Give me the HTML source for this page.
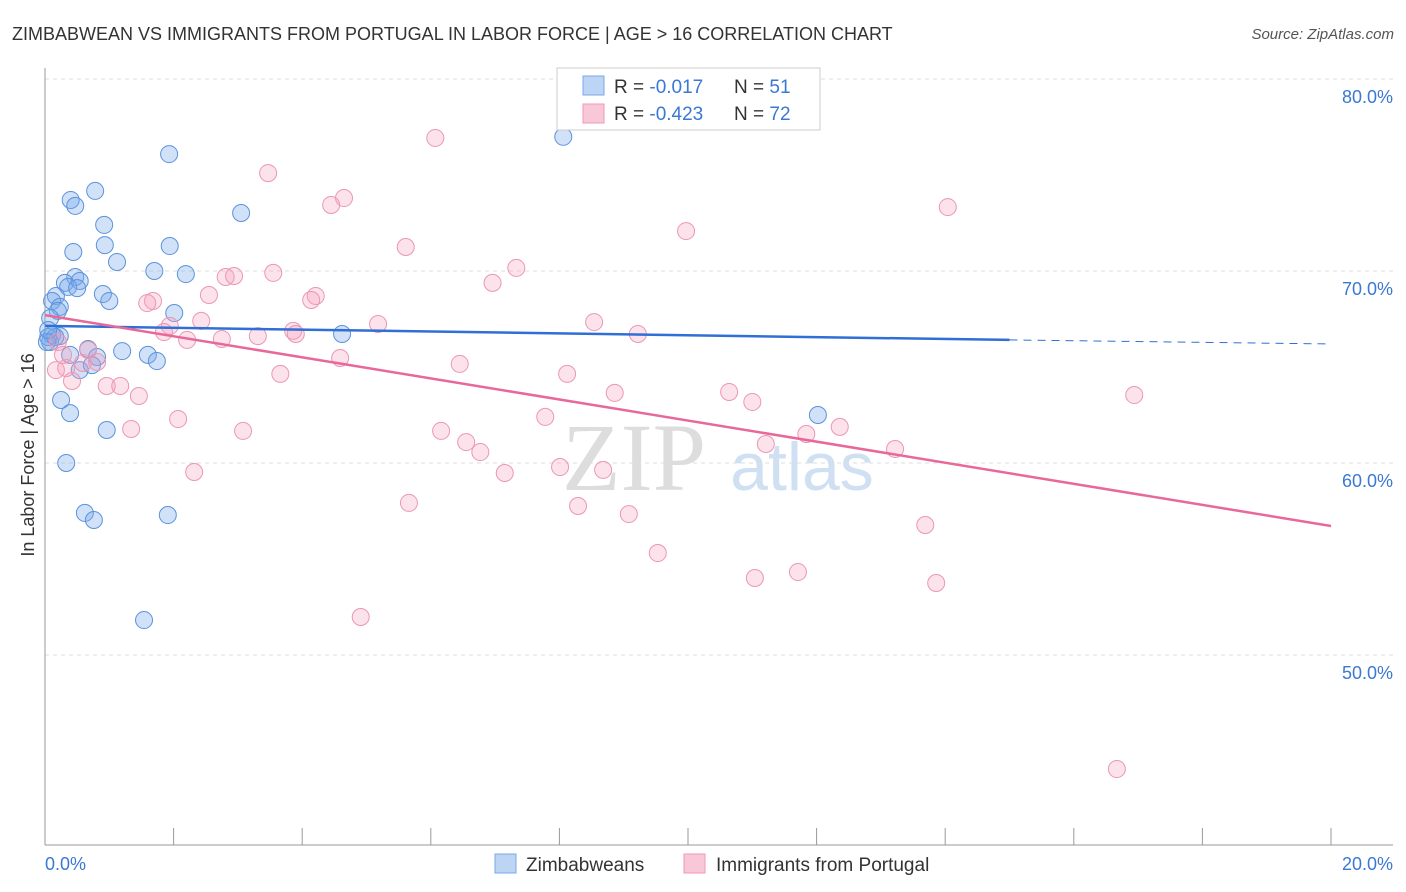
<!DOCTYPE html>
<html><head><meta charset="utf-8"><style>
body{margin:0;background:#fff;font-family:"Liberation Sans",sans-serif}
svg{display:block}
</style></head><body>
<svg id="chart" width="1406" height="892" xmlns="http://www.w3.org/2000/svg">
<text x="12" y="40" font-size="18" fill="#333">ZIMBABWEAN VS IMMIGRANTS FROM PORTUGAL IN LABOR FORCE | AGE &gt; 16 CORRELATION CHART</text>
<text x="1394" y="39" font-size="15" fill="#555" font-style="italic" text-anchor="end">Source: ZipAtlas.com</text>
<text x="634" y="490" font-size="96" fill="#ddd" font-family="Liberation Serif" text-anchor="middle">ZIP</text>
<text x="802" y="490" font-size="68" fill="#cfe0f3" text-anchor="middle">atlas</text>
<g id="grid"></g>
<g id="axes"></g>
<g id="pts"></g>
<g id="trend"></g>
<text transform="translate(34,455) rotate(-90)" font-size="18" fill="#333" text-anchor="middle">In Labor Force | Age &gt; 16</text>
<g>
<rect x="557" y="68" width="263" height="62" fill="#fff" stroke="#ccc"/>
<rect x="583" y="76" width="21" height="19" fill="#bcd5f5" stroke="#7aa8e6"/>
<rect x="583" y="104" width="21" height="19" fill="#f9c8d8" stroke="#ee9ab5"/>
<text x="614" y="93" font-size="19" fill="#333">R = <tspan fill="#3a78d4">-0.017</tspan><tspan x="734">N = </tspan><tspan fill="#3a78d4">51</tspan></text>
<text x="614" y="120" font-size="19" fill="#333">R = <tspan fill="#3a78d4">-0.423</tspan><tspan x="734">N = </tspan><tspan fill="#3a78d4">72</tspan></text>
</g>
<g>
<rect x="495" y="854" width="21" height="19" fill="#bcd5f5" stroke="#7aa8e6"/>
<text x="526" y="871" font-size="19" fill="#333">Zimbabweans</text>
<rect x="684" y="854" width="21" height="19" fill="#f9c8d8" stroke="#ee9ab5"/>
<text x="716" y="871" font-size="19" fill="#333">Immigrants from Portugal</text>
</g>
</svg>
<script>
const blueX=[8.06,1.93,0.78,0.40,0.47,3.05,0.92,1.94,0.93,0.44,1.12,1.70,2.19,0.47,0.31,0.54,0.36,0.50,0.90,0.17,0.11,1.00,0.23,0.20,2.01,0.08,4.62,0.23,0.11,0.08,0.67,1.20,0.39,0.81,1.60,1.74,0.54,0.73,0.25,0.39,0.96,0.33,12.02,0.62,0.76,1.91,1.54,0.05,0.16,0.03,0.05];
const blueY=[76.99,76.09,74.17,73.70,73.39,73.02,72.40,71.30,71.35,70.99,70.47,70.00,69.84,69.69,69.38,69.48,69.17,69.11,68.80,68.70,68.44,68.44,68.13,67.92,67.81,67.55,66.72,66.61,66.67,66.30,65.94,65.83,65.63,65.52,65.63,65.31,64.84,65.10,63.28,62.60,61.72,60.00,62.50,57.40,57.03,57.29,51.82,66.56,66.56,66.30,66.93];
const pinkX=[6.07,3.47,4.65,4.45,14.04,9.97,5.61,7.33,3.55,2.81,2.94,6.96,2.55,4.21,4.14,1.68,1.59,2.43,1.94,5.18,8.54,1.85,3.86,3.90,3.31,9.22,2.21,2.75,4.59,6.45,0.17,0.33,0.59,0.81,0.42,0.96,1.17,3.66,8.12,1.46,16.94,8.86,10.64,11.00,7.78,2.07,12.36,1.34,3.08,6.16,11.84,11.21,6.55,13.22,6.77,8.01,7.15,8.68,2.32,5.66,8.29,9.08,13.69,9.53,11.71,11.04,13.86,4.91,16.67,0.20,0.28,0.67];
const pinkY=[76.93,75.10,73.80,73.44,73.33,72.08,71.25,70.16,69.90,69.69,69.74,69.38,68.75,68.70,68.49,68.44,68.33,67.40,67.14,67.24,67.34,66.82,66.88,66.72,66.61,66.72,66.41,66.46,65.47,65.16,64.84,64.95,65.21,65.26,64.27,64.01,64.01,64.64,64.64,63.49,63.54,63.65,63.70,63.18,62.40,62.29,61.88,61.77,61.67,61.67,61.51,60.99,61.09,60.73,60.57,59.79,59.48,59.64,59.53,57.92,57.76,57.34,56.77,55.31,54.32,54.01,53.75,51.98,44.06,66.30,65.63,65.89];
const yTicks=[50,60,70,80];
const yTickLabels=["50.0%","60.0%","70.0%","80.0%"];
const xTickLabels=["0.0%","20.0%"];
const blueTrend=[67.14,66.41,66.2];
const pinkTrend=[67.7,56.72];
const NS="http://www.w3.org/2000/svg";
const X=v=>45+v*64.3, Y=v=>79+(80-v)*19.2;
function mk(tag,attrs,parent){const e=document.createElementNS(NS,tag);for(const k in attrs)e.setAttribute(k,attrs[k]);parent.appendChild(e);return e;}
const grid=document.getElementById('grid'),axes=document.getElementById('axes'),pts=document.getElementById('pts'),tr=document.getElementById('trend');
yTicks.forEach((t,i)=>{
 const l=mk('line',{x1:45,x2:1393,y1:Y(t),y2:Y(t),stroke:'#ddd','stroke-dasharray':'4,4'},grid);
 
 
 const tx=mk('text',{x:1393,y:Y(t)+24,'font-size':18,fill:'#3a78d4','text-anchor':'end'},axes);
 tx.textContent=yTickLabels[i];
 
 
});
let a=mk('line',{x1:45,x2:45,y1:68,y2:845,stroke:'#999'},axes);


a=mk('line',{x1:45,x2:1393,y1:845,y2:845,stroke:'#999'},axes);


for(let i=0;i<=10;i++){
 const t=mk('line',{x1:X(i*2),x2:X(i*2),y1:828,y2:845,stroke:'#999'},axes);
 
 
}
[[0,'start',45],[1,'end',1393]].forEach(([i,anc,x])=>{
 const t=mk('text',{x:x,y:870,'font-size':18,fill:'#3a78d4','text-anchor':anc},axes);
 t.textContent=xTickLabels[i];
 
 
});
blueX.forEach((x,i)=>{
 const c=mk('circle',{cx:X(x),cy:Y(blueY[i]),r:8.5,fill:'rgba(120,170,235,0.35)',stroke:'#5b93dc','stroke-width':1},pts);
 
 
});
pinkX.forEach((x,i)=>{
 const c=mk('circle',{cx:X(x),cy:Y(pinkY[i]),r:8.5,fill:'rgba(245,160,190,0.3)',stroke:'#eb97b3','stroke-width':1},pts);
 
 
});
let t=mk('line',{x1:X(0),y1:Y(blueTrend[0]),x2:X(15),y2:Y(blueTrend[1]),stroke:'#2f6fd6','stroke-width':2.5},tr);


t=mk('line',{x1:X(15),y1:Y(blueTrend[1]),x2:X(20),y2:Y(blueTrend[2]),stroke:'#2f6fd6','stroke-width':1,'stroke-dasharray':'8,6'},tr);


t=mk('line',{x1:X(0),y1:Y(pinkTrend[0]),x2:X(20),y2:Y(pinkTrend[1]),stroke:'#e8689a','stroke-width':2.5},tr);


</script>
</body></html>
